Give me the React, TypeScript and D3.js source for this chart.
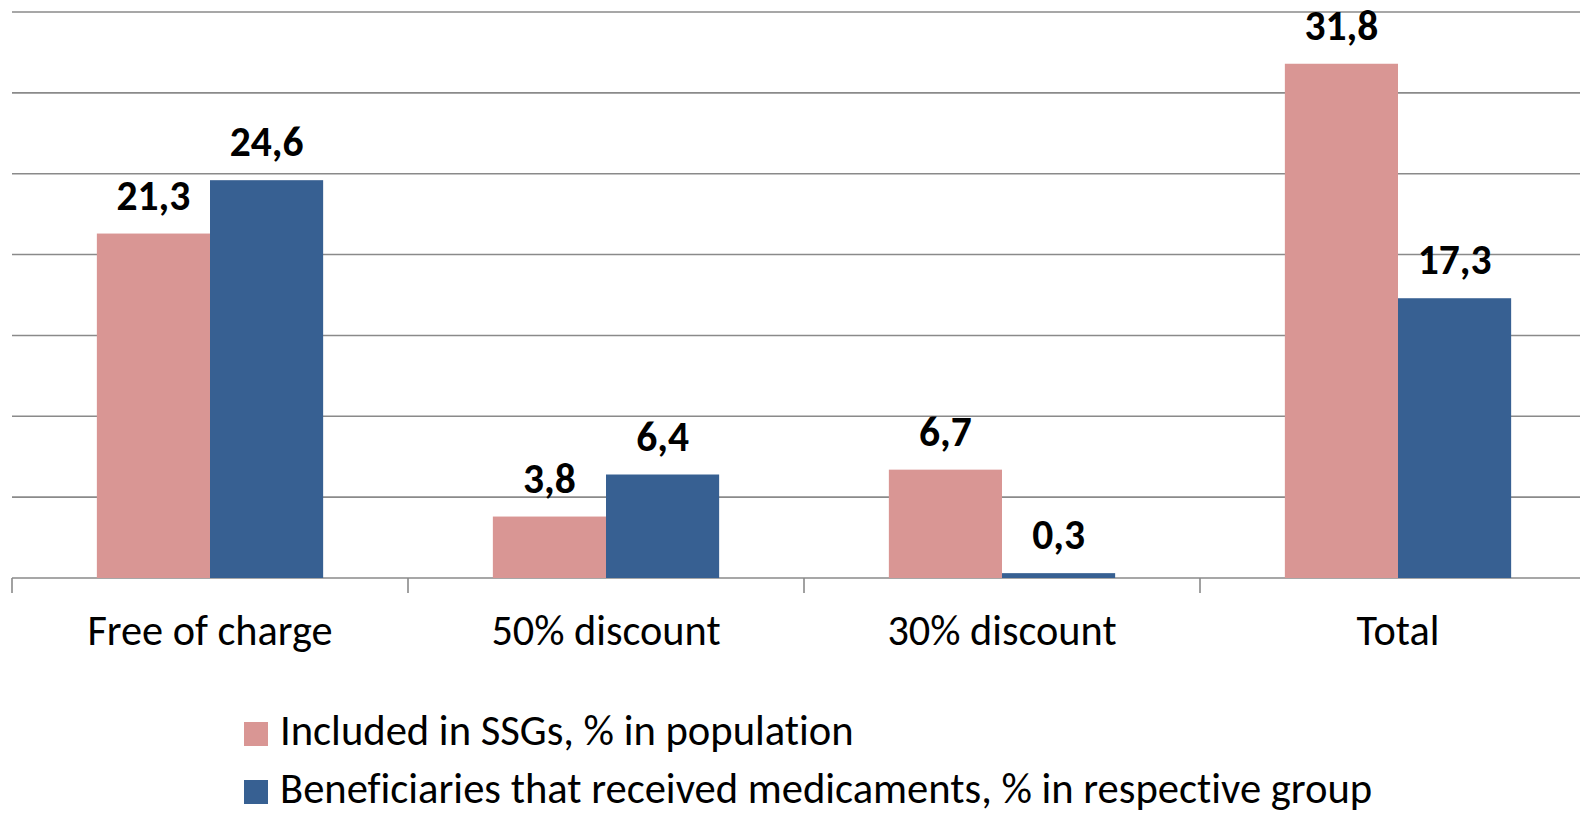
import React from "react";
import * as d3 from "d3";

const categories = ["Free of charge", "50% discount", "30% discount", "Total"];
const seriesNames = [
  "Included in SSGs, % in population",
  "Beneficiaries that received medicaments, % in respective group",
];
const includedValues = [21.3, 3.8, 6.7, 31.8];
const beneficiaryValues = [24.6, 6.4, 0.3, 17.3];
const yTicks = [0, 5, 10, 15, 20, 25, 30, 35];
const colors = ["#D99694", "#376092"];

const W = 1580;
const H = 814;
const FONT = "Carlito, Calibri, Lato, sans-serif";

export default function App() {
  const x0 = d3.scaleBand<string>().domain(categories).range([12, 1596]).paddingInner(0).paddingOuter(0);
  const x1 = d3
    .scaleBand<string>()
    .domain(seriesNames)
    .range([0, x0.bandwidth()])
    .paddingInner(0)
    .paddingOuter(0.75);
  const y = d3.scaleLinear().domain([0, 35]).range([578, 12]);
  const seriesValues = [includedValues, beneficiaryValues];
  const fmt = (v: number) => v.toFixed(1).replace(".", ",");

  return (
    <svg
      width={W}
      height={H}
      style={{ position: "absolute", left: 0, top: 0, background: "#fff", fontVariantLigatures: "none" }}
      fontFamily={FONT}
    >
      <rect x={0} y={0} width={W} height={H} fill="#fff" />
      {yTicks.map((t) => (
        <line key={t} x1={12} x2={W} y1={y(t)} y2={y(t)} stroke="#8a8a8a" strokeWidth={1.6} />
      ))}
      {categories.map((c, i) => (
        <line
          key={"tick" + i}
          x1={x0(c)!}
          x2={x0(c)!}
          y1={y(0)}
          y2={y(0) + 15}
          stroke="#8a8a8a"
          strokeWidth={1.6}
        />
      ))}
      {seriesNames.map((s, si) =>
        categories.map((c, ci) => {
          const v = seriesValues[si][ci];
          const bx = x0(c)! + x1(s)!;
          return (
            <rect
              key={s + c}
              x={bx}
              y={y(v)}
              width={x1.bandwidth()}
              height={y(0) - y(v)}
              fill={colors[si]}
            />
          );
        })
      )}
      {seriesNames.map((s, si) =>
        categories.map((c, ci) => {
          const v = seriesValues[si][ci];
          const cx = x0(c)! + x1(s)! + x1.bandwidth() / 2;
          return (
            <text
              key={"l" + s + c}
              x={cx}
              y={y(v) - 24}
              textAnchor="middle"
              fontWeight="bold"
              fontSize={41.5}
              fill="#000"
            >
              {fmt(v)}
            </text>
          );
        })
      )}
      {categories.map((c) => (
        <text
          key={"c" + c}
          x={x0(c)! + x0.bandwidth() / 2}
          y={645}
          textAnchor="middle"
          fontSize={42.3}
          fill="#000"
        >
          {c}
        </text>
      ))}
      {seriesNames.map((s, si) => (
        <g key={"lg" + s} transform={`translate(244, ${722 + si * 58})`}>
          <rect x={0} y={0} width={24} height={24} fill={colors[si]} />
          <text x={36} y={23} fontSize={42.6} fill="#000">
            {s}
          </text>
        </g>
      ))}
    </svg>
  );
}
